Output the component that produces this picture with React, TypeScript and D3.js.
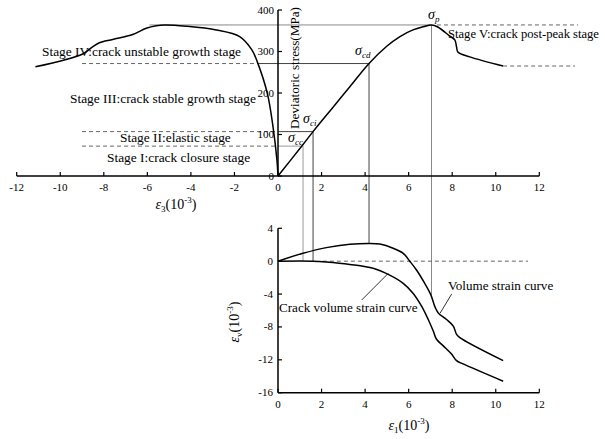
import React from 'react';
import * as d3 from 'd3';

// ---------- data ----------
const topXTicks = [-12, -10, -8, -6, -4, -2, 0, 2, 4, 6, 8, 10, 12];
const topYTicks = [0, 100, 200, 300, 400];
const botXTicks = [0, 2, 4, 6, 8, 10, 12];
const botYTicks = [4, 0, -4, -8, -12, -16];

// axial strain (eps1) vs deviatoric stress
const axialX = [0, 1.15, 1.61, 2.5, 3.3, 4.18, 4.98, 5.6, 6.2, 6.7, 7.05, 7.34, 7.89, 8.12, 8.2, 8.26, 8.81, 10.34];
const axialS = [0, 76, 107, 164, 215, 271, 312, 336, 352, 360, 364, 359, 337, 328, 311, 299, 287, 265];

// lateral strain (eps3) vs deviatoric stress
const lateralX = [0, -0.05, -0.23, -0.49, -0.95, -1.2, -1.76, -2.83, -4.21, -5.2, -5.59, -6.05, -6.67, -7.59, -8.2, -8.5, -8.97, -11.14];
const lateralS = [0, 39, 119, 199, 275, 304, 336, 352, 361, 364, 362, 356, 341, 329, 321, 312, 294, 263];

// volume strain curve
const volX = [0, 1.15, 2.22, 3.3, 4.18, 4.68, 5.29, 5.75, 6.05, 6.36, 6.74, 7.02, 7.2, 7.36, 7.74, 8.05, 8.2, 8.35, 10.34];
const volV = [0, 0.96, 1.65, 2.05, 2.16, 2.08, 1.57, 0.96, 0, -1.07, -2.7, -4.1, -5.5, -6.3, -7.1, -7.9, -8.9, -9.3, -12.1];

// crack volume strain curve
const crackX = [0, 1.6, 2.22, 3.3, 4.37, 5.13, 5.75, 6.2, 6.6, 6.9, 7.13, 7.28, 7.59, 7.97, 8.2, 8.5, 10.34];
const crackV = [0, 0, -0.1, -0.4, -0.87, -1.7, -2.7, -3.9, -5.5, -7.1, -8.5, -9.5, -10.3, -11.3, -12.1, -12.5, -14.6];

// characteristic stresses
const sigmaNames = ['cc', 'ci', 'cd', 'p'];
const sigmaStrain = [1.15, 1.61, 4.18, 7.05];
const sigmaStress = [72, 107, 271, 364];
const sigmaLateral = [0, 0, -0.9, -5.9];
const sigmaVol = [0, 0, 2.16, -4.1];

const stageLabels = [
  'Stage I:crack closure stage',
  'Stage II:elastic stage',
  'Stage III:crack stable growth stage',
  'Stage IV:crack unstable growth stage',
  'Stage V:crack post-peak stage',
];

const FONT = "'Liberation Serif', 'Times New Roman', serif";

export default function App() {
  const x = d3.scaleLinear().domain([-12, 12]).range([16.7, 539.3]);
  const yT = d3.scaleLinear().domain([0, 400]).range([176, 10]);
  const yB = d3.scaleLinear().domain([-16, 4]).range([392.7, 228.3]);

  const lineT = d3.line<[number, number]>().x(d => x(d[0])).y(d => yT(d[1])).curve(d3.curveCatmullRom.alpha(0.5));
  const lineB = d3.line<[number, number]>().x(d => x(d[0])).y(d => yB(d[1])).curve(d3.curveCatmullRom.alpha(0.5));

  const axialPts = axialX.map((v, i) => [v, axialS[i]] as [number, number]);
  const latPts = lateralX.map((v, i) => [v, lateralS[i]] as [number, number]);
  const volPts = volX.map((v, i) => [v, volV[i]] as [number, number]);
  const crackPts = crackX.map((v, i) => [v, crackV[i]] as [number, number]);

  const guideColors = ['#9a9a9a', '#444', '#444', '#8a8a8a'];
  const residual = axialS[axialS.length - 1];
  const residualX = axialX[axialX.length - 1];

  const ep = (sub: string, x0: number, y0: number) => (
    <text x={x0} y={y0} fontFamily={FONT} fontSize={14} textAnchor="middle" fill="#000">
      <tspan fontStyle="italic">ε</tspan>
      <tspan fontSize={9} dy={3}>{sub}</tspan>
      <tspan dy={-3}>(10</tspan>
      <tspan fontSize={9} dy={-6}>-3</tspan>
      <tspan dy={6}>)</tspan>
    </text>
  );

  const sig = (sub: string, x0: number, y0: number) => (
    <text x={x0} y={y0} fontFamily={FONT} fontSize={14} fontStyle="italic" fill="#000">
      σ<tspan fontSize={9} dy={3} fill="#000">{sub}</tspan>
    </text>
  );

  return (
    <svg width={605} height={439} style={{ position: 'absolute', left: 0, top: 0, background: '#fff' }}>
      <rect width={605} height={439} fill="#fff" />

      {/* guide lines */}
      {sigmaNames.map((n, i) => {
        const yy = yT(sigmaStress[i]);
        const xx = x(sigmaStrain[i]);
        const c = guideColors[i];
        return (
          <g key={n}>
            <line x1={x(sigmaLateral[i])} x2={xx} y1={yy} y2={yy} stroke={c} strokeWidth={1} />
            <line x1={xx} x2={xx} y1={yy} y2={yB(sigmaVol[i])} stroke={c} strokeWidth={1} />
            {i < 3 && (
              <line x1={x(-9)} x2={x(sigmaLateral[i])} y1={yy} y2={yy} stroke="#555" strokeWidth={0.9} strokeDasharray="4,3" />
            )}
          </g>
        );
      })}
      {/* peak and residual dashed to right */}
      <line x1={x(7.3)} x2={x(13.78)} y1={yT(364)} y2={yT(364)} stroke="#555" strokeWidth={0.9} strokeDasharray="4,3" />
      <line x1={x(residualX)} x2={x(13.64)} y1={yT(residual)} y2={yT(residual)} stroke="#555" strokeWidth={0.9} strokeDasharray="4,3" />
      {/* bottom zero dashed */}
      <line x1={x(2.06)} x2={x(11.48)} y1={yB(0)} y2={yB(0)} stroke="#555" strokeWidth={0.9} strokeDasharray="4,3" />

      {/* top axes */}
      <line x1={x(-12)} x2={x(12)} y1={yT(0)} y2={yT(0)} stroke="#000" strokeWidth={1.5} />
      <line x1={x(0)} x2={x(0)} y1={yT(0)} y2={yT(400)} stroke="#000" strokeWidth={1.5} />
      {topXTicks.map(t => (
        <g key={'tx' + t}>
          <line x1={x(t)} x2={x(t)} y1={yT(0)} y2={yT(0) - 4} stroke="#000" strokeWidth={1.2} />
          <text x={x(t)} y={yT(0) + 15} fontFamily={FONT} fontSize={11} textAnchor="middle">{t}</text>
        </g>
      ))}
      {topYTicks.map(t => (
        <g key={'ty' + t}>
          <line x1={x(0)} x2={x(0) + 4} y1={yT(t)} y2={yT(t)} stroke="#000" strokeWidth={1.2} />
          <text x={x(0) - 4} y={yT(t) + 3.5} fontFamily={FONT} fontSize={11} textAnchor="end">{t}</text>
        </g>
      ))}

      {/* bottom axes */}
      <line x1={x(0)} x2={x(12)} y1={yB(-16)} y2={yB(-16)} stroke="#000" strokeWidth={1.5} />
      <line x1={x(0)} x2={x(0)} y1={yB(-16)} y2={yB(4)} stroke="#000" strokeWidth={1.5} />
      {botXTicks.map(t => (
        <g key={'bx' + t}>
          <line x1={x(t)} x2={x(t)} y1={yB(-16)} y2={yB(-16) - 4} stroke="#000" strokeWidth={1.2} />
          <text x={x(t)} y={yB(-16) + 15} fontFamily={FONT} fontSize={11} textAnchor="middle">{t}</text>
        </g>
      ))}
      {botYTicks.map(t => (
        <g key={'by' + t}>
          <line x1={x(0)} x2={x(0) + 4} y1={yB(t)} y2={yB(t)} stroke="#000" strokeWidth={1.2} />
          <text x={x(0) - 5} y={yB(t) + 3.5} fontFamily={FONT} fontSize={11} textAnchor="end">{t}</text>
        </g>
      ))}

      {/* curves */}
      <path d={lineT(axialPts) || ''} fill="none" stroke="#000" strokeWidth={1.5} />
      <path d={lineT(latPts) || ''} fill="none" stroke="#000" strokeWidth={1.5} />
      <path d={lineB(volPts) || ''} fill="none" stroke="#000" strokeWidth={1.5} />
      <path d={lineB(crackPts) || ''} fill="none" stroke="#000" strokeWidth={1.5} />

      {/* axis labels */}
      <text transform="translate(299,68) rotate(-90)" fontFamily={FONT} fontSize={13.2} textAnchor="middle">Deviatoric stress(MPa)</text>
      {ep('3', 176, 209)}
      {ep('1', 409, 430)}
      <g transform="translate(239,322) rotate(-90)">
        <text x={0} y={0} fontFamily={FONT} fontSize={14} textAnchor="middle">
          <tspan fontStyle="italic">ε</tspan>
          <tspan fontSize={9} dy={3}>v</tspan>
          <tspan dy={-3}>(10</tspan>
          <tspan fontSize={9} dy={-6}>-3</tspan>
          <tspan dy={6}>)</tspan>
        </text>
      </g>

      {/* stage labels */}
      <text x={107} y={162} fontFamily={FONT} fontSize={13.4}>{stageLabels[0]}</text>
      <text x={120} y={142} fontFamily={FONT} fontSize={13.4}>{stageLabels[1]}</text>
      <text x={70} y={103} fontFamily={FONT} fontSize={13.4}>{stageLabels[2]}</text>
      <text x={42} y={56} fontFamily={FONT} fontSize={13.4}>{stageLabels[3]}</text>
      <text x={448} y={38} fontFamily={FONT} fontSize={12.6}>{stageLabels[4]}</text>

      {/* sigma labels */}
      {sig('cc', 288, 142)}
      {sig('ci', 303, 123)}
      {sig('cd', 355, 55)}
      {sig('p', 428, 19)}

      {/* curve annotations */}
      <line x1={451.7} x2={440} y1={294} y2={313.3} stroke="#000" strokeWidth={0.8} />
      <text x={448} y={290} fontFamily={FONT} fontSize={13.1}>Volume strain curve</text>
      <line x1={361.7} x2={388.3} y1={300} y2={273.3} stroke="#000" strokeWidth={0.8} />
      <text x={279} y={312} fontFamily={FONT} fontSize={13.1}>Crack volume strain curve</text>
    </svg>
  );
}
